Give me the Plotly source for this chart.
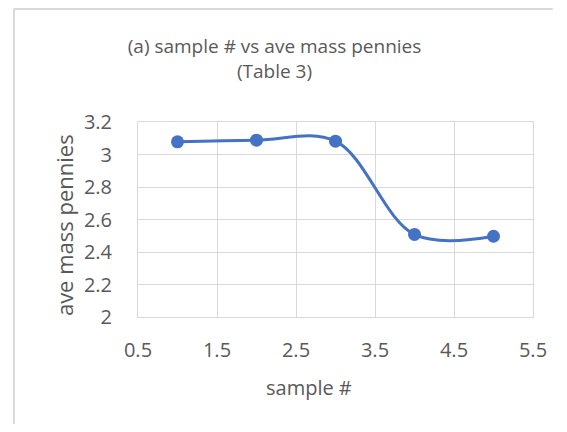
import plotly.graph_objects as go

# sample number vs average mass of pennies (Table 3)
sample_no = [1, 2, 3, 4, 5]
ave_mass = [3.078, 3.088, 3.082, 2.508, 2.497]

x_ticks = [0.5, 1.5, 2.5, 3.5, 4.5, 5.5]
y_ticks = [2, 2.2, 2.4, 2.6, 2.8, 3, 3.2]

fig = go.Figure(go.Scatter(
    x=sample_no,
    y=ave_mass,
    mode="lines+markers",
    line=dict(color="#4472C4", width=3, shape="spline", smoothing=1),
    marker=dict(color="#4472C4", size=13),
))

font_family = "Open Sans, Liberation Sans, sans-serif"
gray = "#595959"
grid = "#d9d9d9"

# chart-area border: only its left and top edges fall inside the picture
border = dict(color="#d9d9d9", width=2)

# page body has an 8px margin on every side, keep the figure inside the window
fig.update_layout(
    width=551,
    height=416,
    margin=dict(l=130, r=20, t=114, b=107),
    paper_bgcolor="white",
    plot_bgcolor="white",
    showlegend=False,
    font=dict(family=font_family, color=gray, size=15),
    title=dict(
        text="(a) sample # vs ave mass pennies<br>(Table 3)",
        xref="container", x=0.4837, xanchor="center",
        yref="container", y=0.891, yanchor="top",
        font=dict(size=19, color=gray),
    ),
    xaxis=dict(
        range=[0.5, 5.5],
        tickvals=x_ticks,
        ticktext=[f"{v:g}" for v in x_ticks],
        showgrid=True, gridcolor=grid, gridwidth=1,
        showline=True, linecolor=grid, linewidth=1, mirror=True,
        zeroline=False, ticks="", ticklabelstandoff=15,
        tickfont=dict(size=20, color=gray),
    ),
    yaxis=dict(
        range=[2, 3.2],
        tickvals=y_ticks,
        ticktext=[f"{v:g}" for v in y_ticks],
        showgrid=True, gridcolor=grid, gridwidth=1,
        showline=True, linecolor=grid, linewidth=1, mirror=True,
        zeroline=False, ticks="", ticklabelstandoff=21,
        tickfont=dict(size=20, color=gray),
    ),
    annotations=[
        dict(text="sample #", xref="paper", yref="paper", x=0.434, y=-0.359,
             xanchor="center", yanchor="middle", showarrow=False,
             font=dict(size=20, color=gray)),
        dict(text="ave mass pennies", xref="paper", yref="paper", x=-0.187, y=0.472,
             xanchor="center", yanchor="middle", showarrow=False, textangle=-90,
             font=dict(size=22, color=gray)),
    ],
    shapes=[
        dict(type="line", xref="paper", yref="paper",
             x0=-0.314, x1=1.05, y0=1.579, y1=1.579, line=border, layer="below"),
        dict(type="line", xref="paper", yref="paper",
             x0=-0.314, x1=-0.314, y0=1.579, y1=-0.549, line=border, layer="below"),
    ],
)

# no scrollbars in the page
fig.write_html(
    "out.html",
    post_script="document.documentElement.style.overflow='hidden';"
                "document.body.style.overflow='hidden';",
)
